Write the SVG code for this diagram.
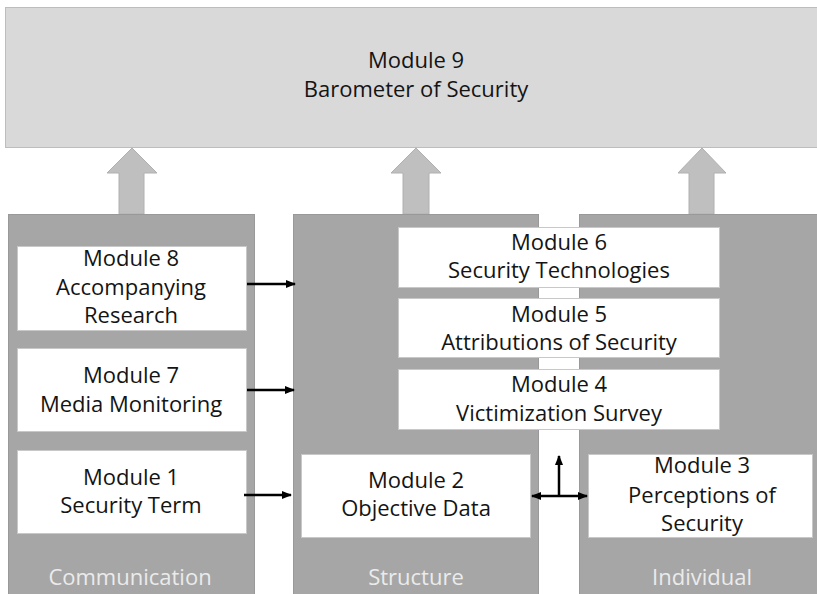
<svg xmlns="http://www.w3.org/2000/svg" width="817" height="594" viewBox="0 0 817 594">
<style>
.t{font-family:"Open Sans","Liberation Sans",sans-serif;font-size:22px;fill:#141414;text-anchor:middle}
.pl{font-family:"Open Sans","Liberation Sans",sans-serif;font-size:22px;fill:#ebebeb;text-anchor:middle}
.panel{fill:#a6a6a6;stroke:#999999;stroke-width:1}
.box{fill:#ffffff;stroke:#c8c8c8;stroke-width:1}
.up{fill:#bfbfbf;stroke:#b0b0b0;stroke-width:1}
.c{stroke:#000000;stroke-width:2.5;fill:none}
</style>
<defs>
<marker id="ah" viewBox="0 0 10 10" refX="9" refY="5" markerWidth="4.2" markerHeight="4.2" orient="auto-start-reverse" markerUnits="strokeWidth">
<path d="M0,1 L10,5 L0,9 z" fill="#000000"/>
</marker>
</defs>
<rect width="817" height="594" fill="#ffffff"/>

<g id="module9">
<rect x="5.5" y="7.5" width="820" height="140" fill="#d9d9d9" stroke="#bdbdbd" stroke-width="1"/>
<text class="t" x="416" y="68">Module 9</text>
<text class="t" x="416" y="97">Barometer of Security</text>
</g>

<g id="up-arrows">
<polygon class="up" points="119,214 119,173 107,173 132,148 157,173 144,173 144,214"/>
<polygon class="up" points="403,214 403,173 391,173 416,148 441,173 429,173 429,214"/>
<polygon class="up" points="689,214 689,173 678,173 702,148 726,173 714,173 714,214"/>
</g>

<g id="panel-communication">
<rect class="panel" x="8.5" y="214.5" width="246" height="385"/>
<text class="pl" x="130" y="585">Communication</text>
</g>
<g id="panel-structure">
<rect class="panel" x="293.5" y="214.5" width="245" height="385"/>
<text class="pl" x="416" y="585">Structure</text>
</g>
<g id="panel-individual">
<rect class="panel" x="579.5" y="214.5" width="245" height="385"/>
<text class="pl" x="702" y="585">Individual</text>
</g>

<g id="module8">
<rect class="box" x="17.5" y="246.5" width="229" height="84"/>
<text class="t" x="131" y="266">Module 8</text>
<text class="t" x="131" y="295">Accompanying</text>
<text class="t" x="131" y="323">Research</text>
</g>
<g id="module7">
<rect class="box" x="17.5" y="348.5" width="229" height="83"/>
<text class="t" x="131" y="383">Module 7</text>
<text class="t" x="131" y="412">Media Monitoring</text>
</g>
<g id="module1">
<rect class="box" x="17.5" y="450.5" width="229" height="83"/>
<text class="t" x="131" y="485">Module 1</text>
<text class="t" x="131" y="513">Security Term</text>
</g>

<g id="module6">
<rect class="box" x="398.5" y="227.5" width="321" height="60"/>
<text class="t" x="559" y="250">Module 6</text>
<text class="t" x="559" y="278">Security Technologies</text>
</g>
<g id="module5">
<rect class="box" x="398.5" y="298.5" width="321" height="59"/>
<text class="t" x="559" y="322">Module 5</text>
<text class="t" x="559" y="350">Attributions of Security</text>
</g>
<g id="module4">
<rect class="box" x="398.5" y="369.5" width="321" height="60"/>
<text class="t" x="559" y="392">Module 4</text>
<text class="t" x="559" y="421">Victimization Survey</text>
</g>
<g id="module2">
<rect class="box" x="301.5" y="454.5" width="229" height="83"/>
<text class="t" x="416" y="488">Module 2</text>
<text class="t" x="416" y="516">Objective Data</text>
</g>
<g id="module3">
<rect class="box" x="588.5" y="454.5" width="224" height="83"/>
<text class="t" x="702" y="473">Module 3</text>
<text class="t" x="702" y="503">Perceptions of</text>
<text class="t" x="702" y="531">Security</text>
</g>

<g id="connectors">
<line class="c" x1="247" y1="284" x2="295" y2="284" marker-end="url(#ah)"/>
<line class="c" x1="247" y1="390" x2="294" y2="390" marker-end="url(#ah)"/>
<line class="c" x1="244" y1="495" x2="291" y2="495" marker-end="url(#ah)"/>
<line class="c" x1="532" y1="496" x2="587" y2="496" marker-start="url(#ah)" marker-end="url(#ah)"/>
<line class="c" x1="559" y1="496" x2="559" y2="456" marker-end="url(#ah)"/>
</g>
</svg>
